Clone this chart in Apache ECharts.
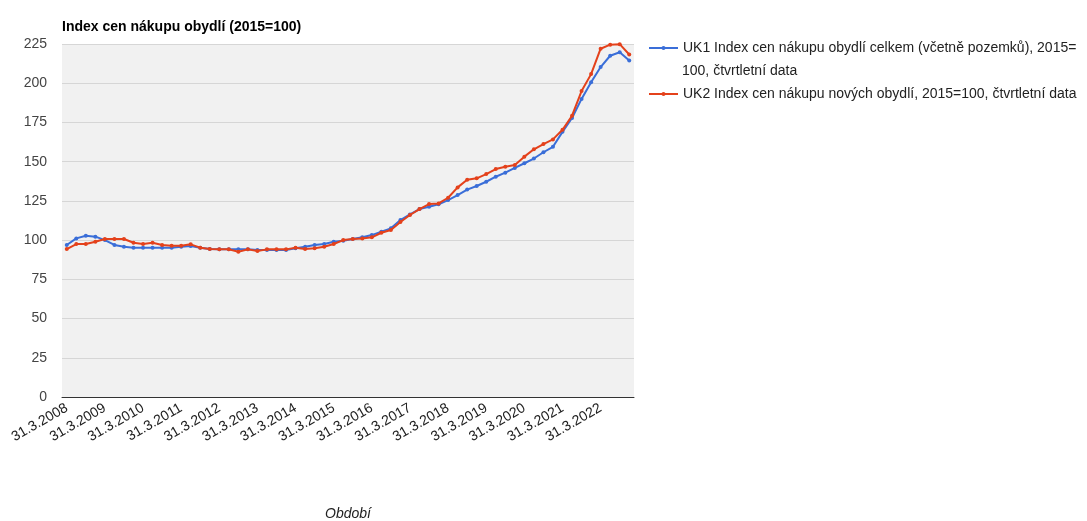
<!DOCTYPE html>
<html>
<head>
<meta charset="utf-8">
<title>Index cen nákupu obydlí (2015=100)</title>
<script src="https://cdn.jsdelivr.net/npm/echarts@6/dist/echarts.min.js"></script>
<style>
  html, body { margin: 0; padding: 0; background: #ffffff; }
  #chart { width: 1087px; height: 521px; }
</style>
</head>
<body>
<div id="chart"></div>
<script>
// Quarter-end dates 2008–2022 used as category labels
const years = [2008, 2009, 2010, 2011, 2012, 2013, 2014, 2015, 2016, 2017, 2018, 2019, 2020, 2021, 2022];
const quarterEnds = ['31.3.', '30.6.', '30.9.', '31.12.'];
const categories = years.flatMap(y => quarterEnds.map(q => q + y));

// UK1: index cen nákupu obydlí celkem (včetně pozemků), 2015=100
const uk1 = [
  96.9, 101.1, 102.8, 102.2,
  100.0, 96.9, 95.8, 95.2,
  95.2, 95.2, 95.2, 95.2,
  95.8, 96.2, 95.2, 94.3,
  94.1, 94.1, 94.1, 94.1,
  93.7, 93.7, 93.7, 93.7,
  94.8, 95.8, 96.9, 97.5,
  99.0, 99.6, 100.7, 101.8,
  103.2, 105.4, 107.5, 112.8,
  116.4, 119.8, 121.3, 122.8,
  125.5, 128.7, 132.2, 134.5,
  137.2, 140.4, 143.0, 146.0,
  149.0, 152.0, 156.0, 159.5,
  169.0, 177.8, 190.0, 200.6,
  210.3, 217.5, 219.7, 214.5
];

// UK2: index cen nákupu nových obydlí, 2015=100
const uk2 = [
  94.3, 97.5, 97.5, 99.0,
  100.7, 100.7, 100.7, 98.3,
  97.5, 98.3, 96.9, 96.4,
  96.4, 97.3, 95.2, 94.3,
  94.1, 94.1, 92.6, 94.1,
  93.0, 94.1, 94.1, 94.1,
  95.2, 94.3, 94.8, 95.8,
  97.5, 100.0, 100.7, 101.1,
  101.8, 104.7, 106.4, 111.5,
  116.0, 119.8, 123.0, 123.4,
  127.0, 133.6, 138.5, 139.4,
  142.1, 145.3, 146.8, 147.9,
  153.2, 157.9, 161.2, 164.2,
  170.3, 179.3, 195.0, 205.8,
  222.0, 224.6, 224.9, 218.3
];

const seriesNames = [
  'UK1 Index cen nákupu obydlí celkem (včetně pozemků), 2015=100, čtvrtletní data',
  'UK2 Index cen nákupu nových obydlí, 2015=100, čtvrtletní data'
];
// Legend text of the first series wraps onto a second line
const legendLines1 = ['UK1 Index cen nákupu obydlí celkem (včetně pozemků), 2015=', '100, čtvrtletní data'];

const yTicks = { min: 0, max: 225, interval: 25 };
const colors = ['#3a6ed8', '#e4411b'];
const fontFamily = '"Liberation Sans", Arial, sans-serif';
const fontSize = 14;

const chart = echarts.init(document.getElementById('chart'), null, { renderer: 'canvas' });

const legendBase = {
  left: 648,
  padding: 0,
  itemWidth: 29,
  itemHeight: 5,
  textStyle: { fontSize: fontSize, color: '#222', fontFamily: fontFamily }
};

chart.setOption({
  animation: false,
  color: colors,
  textStyle: { fontFamily: fontFamily },
  title: {
    text: 'Index cen nákupu obydlí (2015=100)',
    left: 62,
    top: 20,
    padding: 0,
    textStyle: { fontSize: fontSize, fontWeight: 'bold', color: '#000', fontFamily: fontFamily }
  },
  grid: {
    left: 62,
    right: 453,
    top: 44,
    bottom: 124,
    outerBoundsMode: 'none',
    containLabel: false,
    show: true,
    backgroundColor: '#f1f1f1',
    borderWidth: 0
  },
  legend: [
    Object.assign({}, legendBase, {
      data: [seriesNames[0]],
      top: 41,
      formatter: () => legendLines1[0]
    }),
    Object.assign({}, legendBase, {
      data: [seriesNames[1]],
      top: 87
    })
  ],
  graphic: [
    {
      type: 'text',
      left: 682,
      top: 64,
      style: { text: legendLines1[1], fontSize: fontSize, fill: '#222', fontFamily: fontFamily }
    }
  ],
  xAxis: {
    type: 'category',
    data: categories,
    boundaryGap: true,
    name: 'Období',
    nameLocation: 'middle',
    nameGap: 110,
    nameTextStyle: { fontSize: fontSize, fontStyle: 'italic', color: '#222', fontFamily: fontFamily },
    axisLine: { lineStyle: { color: '#333', width: 1 } },
    axisTick: { show: false },
    axisLabel: {
      interval: 3,
      rotate: 30,
      margin: 10,
      fontSize: fontSize,
      color: '#222',
      fontFamily: fontFamily
    },
    splitLine: { show: false }
  },
  yAxis: {
    type: 'value',
    min: yTicks.min,
    max: yTicks.max,
    interval: yTicks.interval,
    axisLine: { show: false },
    axisTick: { show: false },
    axisLabel: { fontSize: fontSize, color: '#444', margin: 15, fontFamily: fontFamily },
    splitLine: { lineStyle: { color: '#d6d6d6', width: 1 } }
  },
  series: [
    {
      name: seriesNames[0],
      type: 'line',
      data: uk1,
      symbol: 'circle',
      symbolSize: 4,
      showSymbol: true,
      lineStyle: { width: 2 },
      z: 2
    },
    {
      name: seriesNames[1],
      type: 'line',
      data: uk2,
      symbol: 'circle',
      symbolSize: 4,
      showSymbol: true,
      lineStyle: { width: 2 },
      z: 3
    }
  ]
});
</script>
</body>
</html>
